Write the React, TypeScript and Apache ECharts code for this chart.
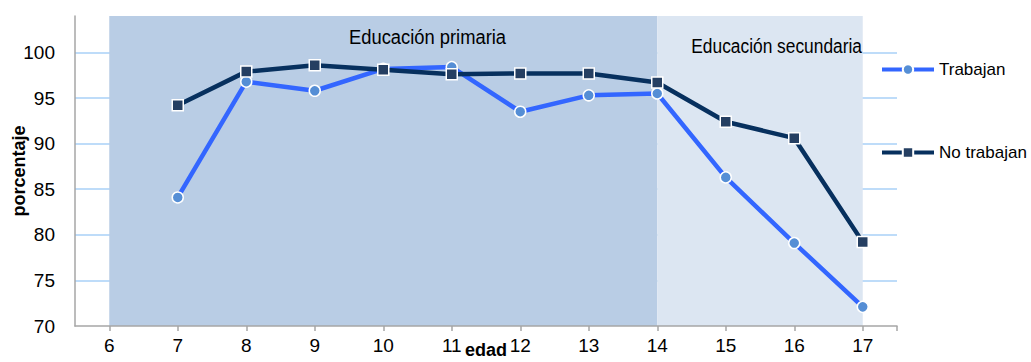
import React, { useEffect, useRef } from "react";
import * as echarts from "echarts";

const ages = [7, 8, 9, 10, 11, 12, 13, 14, 15, 16, 17];
const trabajan = [84.1, 96.8, 95.8, 98.2, 98.4, 93.5, 95.3, 95.5, 86.3, 79.1, 72.1];
const noTrabajan = [94.2, 97.9, 98.6, 98.1, 97.6, 97.7, 97.7, 96.7, 92.4, 90.6, 79.2];
const xTickValues = [6, 7, 8, 9, 10, 11, 12, 13, 14, 15, 16, 17, 17.5];
const xLabelValues = [6, 7, 8, 9, 10, 11, 12, 13, 14, 15, 16, 17];
const stages = [
  { name: "Educación primaria", from: 6, to: 14, color: "#b9cde5" },
  { name: "Educación secundaria", from: 14, to: 17, color: "#dce6f2" },
];

const FONT = "'Liberation Sans', Arial, sans-serif";

export default function App() {
  const ref = useRef<HTMLDivElement>(null);
  useEffect(() => {
    const chart = echarts.init(ref.current!, null, { renderer: "svg" });
    chart.setOption({
      animation: false,
      textStyle: { fontFamily: FONT },
      grid: { left: 75, right: 134, top: 16, bottom: 36, containLabel: false, outerBoundsMode: "none" },
      legend: {
        orient: "vertical",
        left: 880,
        top: 61,
        padding: 0,
        itemWidth: 52,
        itemHeight: 13,
        itemGap: 66,
        lineStyle: { width: 4 },
        textStyle: { fontFamily: FONT, fontSize: 17, color: "#000" },
        data: ["Trabajan", "No trabajan"],
      },
      xAxis: {
        type: "value",
        min: 5.5,
        max: 17.5,
        z: 5,
        name: "edad",
        nameLocation: "middle",
        nameGap: 15,
        nameMoveOverlap: false,
        nameTextStyle: { fontFamily: FONT, fontSize: 18, fontWeight: "bold", color: "#000" },
        axisLine: { show: true, lineStyle: { color: "#a6a6a6", width: 1.5 } },
        axisTick: { show: true, customValues: xTickValues, length: 5, lineStyle: { color: "#a6a6a6", width: 1.5 } },
        axisLabel: { customValues: xLabelValues, margin: 10, fontSize: 19, color: "#000", fontFamily: FONT },
        splitLine: { show: false },
      },
      yAxis: {
        type: "value",
        min: 70,
        max: 104,
        interval: 5,
        name: "porcentaje",
        nameLocation: "middle",
        nameGap: 47,
        nameMoveOverlap: false,
        nameTextStyle: { fontFamily: FONT, fontSize: 18, fontWeight: "bold", color: "#000" },
        axisLine: { show: true, lineStyle: { color: "#a6a6a6", width: 1.5 } },
        axisTick: { show: false },
        axisLabel: { margin: 20, fontSize: 19, color: "#000", fontFamily: FONT, showMaxLabel: false },
        splitLine: { show: true, showMaxLine: false, showMinLine: false, lineStyle: { color: "#a9d1f7", width: 1.5 } },
      },
      graphic: [
        {
          type: "text",
          x: 349,
          y: 37,
          scaleX: 0.874,
          z: 10,
          style: { text: stages[0].name, font: `21px ${FONT}`, fill: "#000", align: "left", verticalAlign: "middle" },
        },
        {
          type: "text",
          x: 862,
          y: 46,
          scaleX: 0.827,
          z: 10,
          style: { text: stages[1].name, font: `21px ${FONT}`, fill: "#000", align: "right", verticalAlign: "middle" },
        },
      ],
      series: [
        {
          type: "line",
          name: "areas",
          data: [],
          z: 1,
          silent: true,
          markArea: {
            silent: true,
            data: stages.map((s) => [
              { xAxis: s.from, itemStyle: { color: s.color, opacity: 1 } },
              { xAxis: s.to },
            ]),
          },
        },
        {
          type: "line",
          name: "Trabajan",
          data: ages.map((a, i) => [a, trabajan[i]]),
          z: 3,
          symbol: "circle",
          symbolSize: 11,
          lineStyle: { color: "#3366ff", width: 4.5 },
          itemStyle: { color: "#558ed5", borderColor: "#ffffff", borderWidth: 1.5 },
        },
        {
          type: "line",
          name: "No trabajan",
          data: ages.map((a, i) => [a, noTrabajan[i]]),
          z: 4,
          symbol: "rect",
          symbolSize: 11,
          lineStyle: { color: "#07305e", width: 4.5 },
          itemStyle: { color: "#253f62", borderColor: "#ffffff", borderWidth: 1.5 },
        },
      ],
    });
    return () => chart.dispose();
  }, []);
  return (
    <div
      ref={ref}
      style={{ position: "fixed", left: 0, top: 0, width: 1031, height: 362, background: "#fff" }}
    />
  );
}
